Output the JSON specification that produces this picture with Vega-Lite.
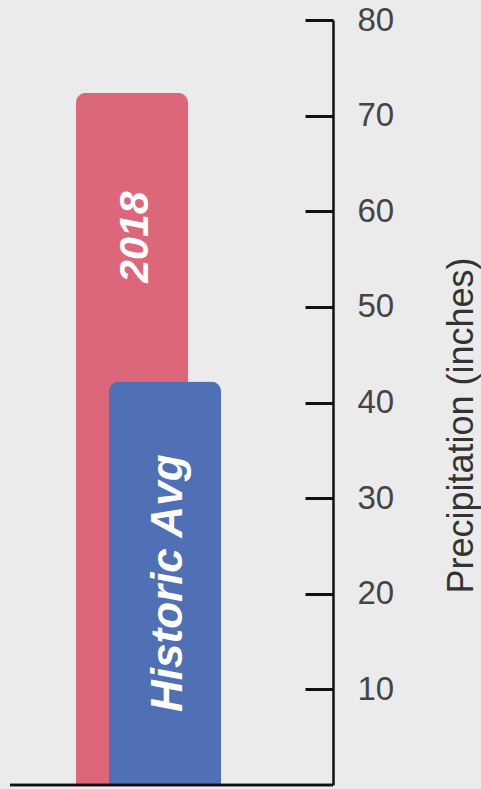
{
  "$schema": "https://vega.github.io/schema/vega-lite/v6.json",
  "width": 323,
  "height": 765,
  "autosize": {"type": "none"},
  "padding": {"left": 10, "top": 20, "right": 148, "bottom": 4},
  "background": "#ebebeb",
  "config": {"view": {"stroke": null}, "font": "Liberation Sans"},
  "data": {
    "values": [
      {"series": "2018", "inches": 72.4},
      {"series": "Historic Avg", "inches": 42.2}
    ]
  },
  "layer": [
    {
      "mark": {"type": "bar", "width": 112, "cornerRadiusTopLeft": 10, "cornerRadiusTopRight": 10},
      "encoding": {
        "x": {
          "field": "series",
          "type": "nominal",
          "sort": null,
          "scale": {"domain": ["2018", "Historic Avg"], "range": [105.5, 171.5], "paddingInner": 0, "paddingOuter": 0},
          "axis": null
        },
        "y": {
          "field": "inches",
          "type": "quantitative",
          "scale": {"domain": [0, 80], "nice": false},
          "axis": {
            "orient": "right",
            "values": [10, 20, 30, 40, 50, 60, 70, 80],
            "grid": false,
            "tickSize": -28,
            "tickWidth": 3,
            "tickColor": "#111111",
            "domainColor": "#111111",
            "domainWidth": 2.5,
            "labelPadding": 52,
            "labelFontSize": 33,
            "labelColor": "#444444",
            "labelAlign": "left",
            "labelBaseline": "middle",
            "title": "Precipitation (inches)",
            "titleAngle": 270,
            "titleX": 128,
            "titleY": 405,
            "titleAlign": "center",
            "titleBaseline": "middle",
            "titleFontSize": 36,
            "titleFontWeight": "normal",
            "titleColor": "#333333"
          }
        },
        "color": {
          "field": "series",
          "type": "nominal",
          "scale": {"domain": ["2018", "Historic Avg"], "range": ["#dd677a", "#4f70b5"]},
          "legend": null
        }
      }
    },
    {
      "transform": [
        {"window": [{"op": "lag", "field": "inches", "as": "below"}], "sort": [{"field": "inches", "order": "ascending"}]},
        {"calculate": "(datum.inches + (datum.below || 0)) / 2", "as": "mid"}
      ],
      "mark": {"type": "text", "angle": 270, "fontStyle": "italic", "fontWeight": "bold", "color": "white", "align": "center", "baseline": "middle", "dy": 4},
      "encoding": {
        "x": {"field": "series", "type": "nominal", "sort": null, "axis": null},
        "y": {"field": "mid", "type": "quantitative"},
        "text": {"field": "series"},
        "size": {"field": "series", "type": "nominal", "scale": {"domain": ["2018", "Historic Avg"], "range": [41, 44]}, "legend": null}
      }
    },
    {
      "mark": {"type": "rule", "color": "#111111", "strokeWidth": 2.5},
      "encoding": {"y": {"datum": 0}}
    }
  ]
}
